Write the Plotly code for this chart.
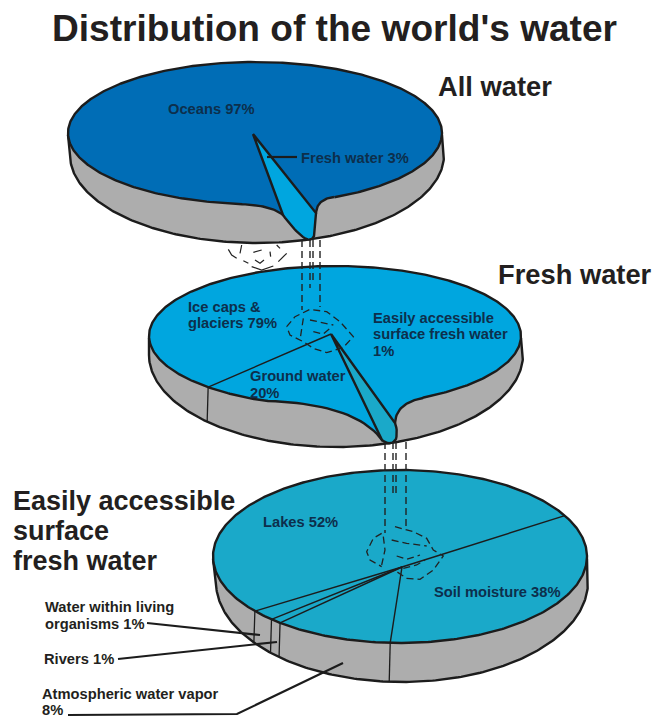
import numpy as np
import plotly.graph_objects as go

# ---- values ----
all_water_names = ["Oceans", "Fresh water"]
all_water_values = [97, 3]
fresh_names = ["Ice caps &", "glaciers", "Ground water", "Easily accessible"]
fresh_values = [79, 20, 1]
surface_names = ["Lakes", "Soil moisture", "Atmospheric water vapor", "Rivers", "Water within living organisms"]
surface_values = [52, 38, 8, 1, 1]
# slice boundaries as drawn (angle round the disc, degrees, clockwise from 3 o'clock)
fresh_boundaries = [133.0]
surface_boundaries = [-28.2, 140.9, 133.4, 129.9, 93.0]

# ---- styles ----
INK = "#1c1c1c"
TXT = "#231f20"
DISC_TXT = "#0d2f4c"
GRAY = "#adadad"
BLUE1 = "#006db6"
BLUE2 = "#00a6df"
BLUE3 = "#1aa9c9"
FONT = "Liberation Sans"

fig = go.Figure()


def poly(x, y, fill=None, width=2.2, color=INK, dash=None):
    fig.add_trace(go.Scatter(
        x=x, y=y, mode="lines", hoverinfo="skip", showlegend=False,
        fill="toself" if fill else None, fillcolor=fill,
        line=dict(color=color, width=width, dash=dash, shape="linear")))


def bez(p0, c, p1, n=24):
    t = np.linspace(0, 1, n)
    a = np.array(p0)[None, :]
    b = np.array(c)[None, :]
    d = np.array(p1)[None, :]
    t = t[:, None]
    return (1 - t) ** 2 * a + 2 * t * (1 - t) * b + t ** 2 * d


def ell_angle(cx, cy, rx, ry, p):
    return np.arctan2((p[1] - cy) / ry, (p[0] - cx) / rx)


def disc(top, low, notch_l_start, notch_l_ctrl, notch_l_end, notch_r_start, notch_r_ctrl, notch_r_end,
         wedge, colour, wedge_colour, apex, boundaries):
    cx, cy, rx, ry = top
    lx, ly, lrx, lry = low
    # side wall
    t = np.linspace(0, np.pi, 200)
    sx = np.r_[cx + rx, lx + lrx * np.cos(t), cx - rx]
    sy = np.r_[cy + 2, ly + lry * np.sin(t), cy + 2]
    poly(sx, sy, fill=GRAY, width=2.4)
    # side lines under the slice boundaries
    for b in boundaries:
        a = np.radians(b)
        ex, ey = cx + rx * np.cos(a), cy + ry * np.sin(a)
        if np.sin(a) > 0:
            k = (ex - 1 - lx) / lrx
            poly([ex, ex - 1], [ey, ly + lry * np.sqrt(1 - k * k)], width=1.3)
    # top face with the notch
    a0 = ell_angle(cx, cy, rx, ry, notch_r_end)
    a1 = ell_angle(cx, cy, rx, ry, notch_l_start)
    arc = np.linspace(a0, a1 - 2 * np.pi, 400)
    px = cx + rx * np.cos(arc)
    py = cy + ry * np.sin(arc)
    left = bez(notch_l_start, notch_l_ctrl, notch_l_end)
    right = bez(notch_r_start, notch_r_ctrl, notch_r_end)
    poly(np.r_[px, left[:, 0], right[:, 0]], np.r_[py, left[:, 1], right[:, 1]], fill=colour, width=2.4)
    # slice boundaries on the face
    for b in boundaries:
        a = np.radians(b)
        poly([apex[0], cx + rx * np.cos(a)], [apex[1], cy + ry * np.sin(a)], width=1.4)
    # pulled wedge
    poly(wedge[:, 0], wedge[:, 1], fill=wedge_colour, width=2.4)


# disc 1
w1 = np.vstack([
    [[253, 134]], [[283, 215]],
    bez((283, 215), (296, 233), (306, 239), 14),
    bez((306, 239), (312, 241), (314, 236), 8),
    bez((314, 236), (315, 225), (316, 213), 8),
    [[253, 134]],
])
disc((255, 133, 187, 71), (257, 155, 187, 88),
     (233, 204), (270, 204), (283, 215), (316, 213), (317, 199), (334, 197),
     w1, BLUE1, BLUE2, (253, 134), [])

# disc 2
w2 = np.vstack([
    [[331, 334]], [[382, 440]],
    bez((382, 440), (391, 447), (396, 439), 10),
    bez((396, 439), (398, 431), (395, 423), 8),
    [[331, 334]],
])
disc((335, 336, 186, 70), (336, 355, 187, 92),
     (268, 401), (356, 404), (382, 440), (395, 423), (396, 403), (423, 398),
     w2, BLUE2, BLUE3, (331, 334), fresh_boundaries)

# disc 3 (no notch)
cx3, cy3, rx3, ry3 = 400, 556.5, 187, 86.5
disc((cx3, cy3, rx3, ry3), (402, 582, 186, 100),
     (399, 643), (399.5, 643), (400, 643), (400, 643), (401, 643), (402, 643),
     np.array([[402, 567], [402, 567]]), BLUE3, BLUE3, (402, 567), surface_boundaries)

# ---- dashed drop lines ----
DASH = "7px,4px"
for x, y0, y1 in [(302, 240, 310), (310, 240, 288), (313, 240, 282), (320, 240, 307),
                  (385, 442, 533), (393, 442, 495), (396, 442, 495), (406, 442, 528)]:
    poly([x, x], [y0, y1], width=1.4, dash=DASH, color="#222222")


def z(pts, ox, oy):
    a = np.array(pts, dtype=float) / 3 + np.array([ox, oy])
    return a[:, 0], a[:, 1]


# ---- dashed blobs ----
blob2 = [[(440, 200), (465, 170), (510, 148), (560, 155), (600, 185), (640, 230), (610, 262), (560, 278),
          (520, 265), (490, 245), (450, 225), (440, 200)],
         [(510, 180), (580, 195)], [(520, 215), (550, 222), (570, 205)], [(490, 175), (480, 240)]]
for b in blob2:
    poly(*z(b, 140, 260), width=1.3, dash="7px,4px", color="#222222")

blob3 = [[(545, 190), (520, 205), (500, 245), (510, 270), (545, 290)],
         [(585, 170), (640, 185), (680, 205), (700, 240), (730, 258), (700, 300), (660, 328), (620, 325), (590, 305)],
         [(575, 210), (620, 220), (680, 228)], [(590, 258), (620, 268), (660, 255)],
         [(550, 200), (555, 240), (545, 285)], [(610, 295), (650, 285), (675, 270)]]
for b in blob3:
    poly(*z(b, 200, 470), width=1.3, dash="7px,4px", color="#222222")

blob1 = [[(565, 598), (575, 615), (590, 625)], [(605, 585), (600, 610)], [(640, 607), (665, 600)],
         [(690, 605), (692, 620)], [(710, 585), (720, 595)], [(740, 610), (715, 635)], [(610, 632), (625, 640)],
         [(645, 630), (660, 640), (672, 630)], [(635, 650), (665, 660), (700, 648)]]
for b in blob1:
    poly(*z(b, 40, 50), width=1.2, color="#222222")

# ---- leader lines ----
for xs, ys in [([267, 297], [157, 157]),
               ([147, 260], [623, 635]),
               ([118, 277], [659, 642]),
               ([68, 237, 343], [715, 714, 663])]:
    poly(xs, ys, width=2.2)

# ---- text ----
texts = [
    ("Distribution of the world's water", 51, 28, 37.1, TXT),
    ("All water", 437, 86, 27.3, TXT),
    ("Fresh water", 497, 274, 27.3, TXT),
    ("Easily accessible", 12, 501, 27.0, TXT),
    ("surface", 12, 531, 27.0, TXT),
    ("fresh water", 12, 561, 27.0, TXT),
    (f"{all_water_names[0]} {all_water_values[0]}%", 167, 109, 14.7, DISC_TXT),
    (f"{all_water_names[1]} {all_water_values[1]}%", 300, 158, 14.7, DISC_TXT),
    (fresh_names[0], 187, 307, 14.7, DISC_TXT),
    (f"{fresh_names[1]} {fresh_values[0]}%", 187, 323, 14.7, DISC_TXT),
    (fresh_names[3], 372, 318, 14.7, DISC_TXT),
    ("surface fresh water", 372, 334, 14.7, DISC_TXT),
    (f"{fresh_values[2]}%", 372, 351, 14.7, DISC_TXT),
    (fresh_names[2], 249, 376, 14.7, DISC_TXT),
    (f"{fresh_values[1]}%", 249, 393, 14.7, DISC_TXT),
    (f"{surface_names[0]} {surface_values[0]}%", 262, 522, 14.7, DISC_TXT),
    (f"{surface_names[1]} {surface_values[1]}%", 433, 592, 14.7, DISC_TXT),
    ("Water within living", 44, 607, 14.7, TXT),
    (f"organisms {surface_values[4]}%", 44, 624, 14.7, TXT),
    (f"{surface_names[3]} {surface_values[3]}%", 43, 659, 14.7, TXT),
    (surface_names[2], 41, 694, 14.7, TXT),
    (f"{surface_values[2]}%", 41, 710, 14.7, TXT),
]
annotations = [dict(text=f"<b>{t}</b>", x=x, y=y, xref="x", yref="y", xanchor="left", yanchor="middle",
                    showarrow=False, borderpad=0, font=dict(family=FONT, size=s, color=c))
               for t, x, y, s, c in texts]

fig.update_layout(
    width=652, height=719, margin=dict(l=0, r=0, t=0, b=0), autosize=False,
    paper_bgcolor="white", plot_bgcolor="white", showlegend=False, annotations=annotations,
    xaxis=dict(range=[0, 652], visible=False, fixedrange=True),
    yaxis=dict(range=[719, 0], visible=False, fixedrange=True),
)
fig.write_html("out.html", config=dict(displayModeBar=False),
               post_script="document.body.style.margin='0';document.documentElement.style.overflow='hidden';")
